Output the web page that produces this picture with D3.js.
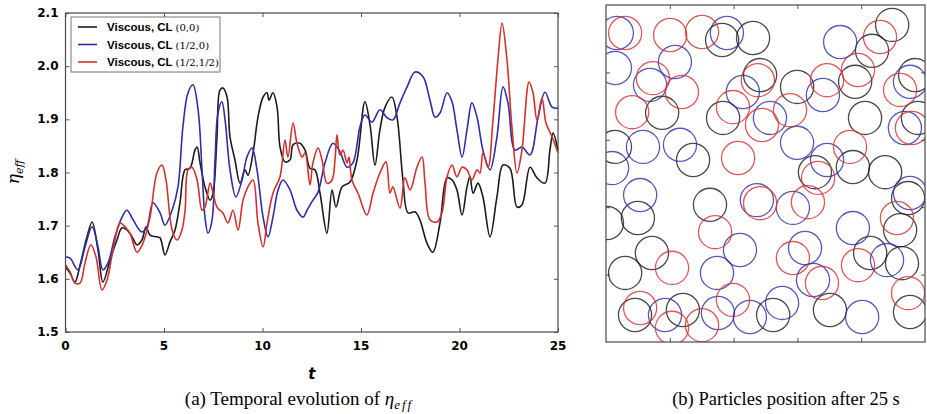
<!DOCTYPE html>
<html>
<head>
<meta charset="utf-8">
<script src="https://d3js.org/d3.v7.min.js"></script>
<style>
  body { margin: 0; background: #fff; }
  svg { display: block; }
</style>
</head>
<body>
<svg id="chart" width="927" height="414"></svg>
<script>
// eta_eff vs t as [t, eta]
let viscous00 = [
  [0,1.622],[0.23,1.611],[0.48,1.594],[0.74,1.626],[1.09,1.679],[1.35,1.707],[1.65,1.654],[1.90,1.594],
  [2.26,1.635],[2.61,1.673],[2.87,1.696],[3.12,1.692],[3.38,1.679],[3.63,1.664],[3.88,1.673],[4.09,1.698],
  [4.29,1.682],[4.64,1.679],[4.80,1.677],[5.05,1.645],[5.30,1.669],[5.56,1.692],[5.81,1.743],[6.07,1.805],
  [6.32,1.808],[6.57,1.842],[6.68,1.848],[6.83,1.818],[7.08,1.773],[7.34,1.748],[7.49,1.761],[7.69,1.867],
  [7.84,1.955],[7.99,1.959],[8.20,1.942],[8.35,1.867],[8.60,1.824],[8.86,1.780],[9.11,1.805],[9.26,1.795],
  [9.52,1.837],[9.77,1.904],[10.03,1.942],[10.23,1.950],[10.33,1.936],[10.53,1.950],[10.74,1.923],[10.89,1.848],
  [11.14,1.820],[11.40,1.824],[11.55,1.852],[11.90,1.855],[12.16,1.842],[12.41,1.808],[12.66,1.805],[12.92,1.761],
  [13.27,1.686],[13.53,1.767],[13.73,1.735],[14.04,1.773],[14.44,1.782],[14.80,1.824],[15.20,1.933],[15.46,1.889],
  [15.71,1.814],[15.96,1.880],[16.22,1.923],[16.57,1.942],[16.83,1.904],[17.13,1.786],[17.39,1.724],[17.74,1.726],
  [17.99,1.711],[18.35,1.667],[18.65,1.650],[19.01,1.705],[19.37,1.790],[19.62,1.786],[19.87,1.767],[20.13,1.720],
  [20.38,1.773],[20.53,1.792],[20.69,1.761],[20.94,1.780],[21.19,1.754],[21.55,1.679],[21.90,1.754],[22.21,1.814],
  [22.56,1.808],[22.92,1.735],[23.17,1.739],[23.58,1.810],[23.93,1.790],[24.34,1.780],[24.59,1.842],[24.75,1.874],
  [25,1.842]
];
let viscousHalf0 = [
  [0,1.641],[0.23,1.639],[0.63,1.617],[0.99,1.660],[1.35,1.698],[1.65,1.660],[1.90,1.617],[2.16,1.630],
  [2.51,1.679],[2.87,1.716],[3.12,1.729],[3.43,1.711],[3.88,1.688],[4.14,1.698],[4.44,1.743],[4.80,1.724],
  [5.05,1.701],[5.41,1.729],[5.71,1.773],[5.96,1.886],[6.22,1.950],[6.47,1.965],[6.73,1.918],[6.93,1.805],
  [7.08,1.716],[7.23,1.686],[7.44,1.711],[7.59,1.824],[7.74,1.912],[7.94,1.933],[8.10,1.899],[8.35,1.805],
  [8.65,1.754],[8.96,1.786],[9.21,1.829],[9.47,1.846],[9.72,1.805],[10.03,1.716],[10.28,1.679],[10.53,1.716],
  [10.79,1.767],[11.04,1.786],[11.40,1.767],[11.75,1.729],[12.06,1.716],[12.26,1.729],[12.56,1.748],[12.82,1.763],
  [13.17,1.818],[13.58,1.855],[13.93,1.839],[14.29,1.810],[14.59,1.818],[14.95,1.886],[15.20,1.908],[15.56,1.895],
  [15.96,1.918],[16.32,1.903],[16.62,1.899],[16.98,1.931],[17.34,1.961],[17.74,1.989],[18.15,1.980],[18.50,1.936],
  [18.76,1.904],[19.01,1.912],[19.37,1.950],[19.62,1.933],[19.87,1.880],[20.13,1.829],[20.38,1.880],[20.63,1.931],
  [20.89,1.904],[21.19,1.842],[21.55,1.805],[21.90,1.867],[22.21,1.961],[22.46,1.931],[22.82,1.842],[23.17,1.848],
  [23.58,1.833],[23.99,1.904],[24.34,1.951],[24.70,1.923],[25,1.921]
];
let viscousHalfHalf = [
  [0,1.626],[0.23,1.613],[0.48,1.592],[0.74,1.592],[0.99,1.630],[1.29,1.664],[1.55,1.641],[1.85,1.579],
  [2.11,1.598],[2.41,1.654],[2.77,1.705],[3.02,1.698],[3.27,1.686],[3.63,1.650],[3.93,1.667],[4.29,1.716],
  [4.64,1.799],[4.90,1.814],[5.10,1.786],[5.41,1.692],[5.66,1.673],[5.91,1.692],[6.07,1.729],[6.22,1.805],
  [6.42,1.810],[6.68,1.786],[6.93,1.729],[7.08,1.735],[7.34,1.780],[7.49,1.761],[7.69,1.735],[7.99,1.724],
  [8.25,1.705],[8.50,1.729],[8.76,1.692],[9.01,1.748],[9.26,1.773],[9.52,1.786],[9.77,1.705],[10.03,1.660],
  [10.23,1.705],[10.53,1.761],[10.89,1.792],[11.14,1.861],[11.29,1.829],[11.55,1.893],[11.75,1.855],[12.01,1.829],
  [12.16,1.837],[12.41,1.777],[12.56,1.818],[12.82,1.846],[13.02,1.824],[13.27,1.780],[13.53,1.786],[13.68,1.824],
  [13.78,1.871],[13.93,1.833],[14.09,1.842],[14.29,1.818],[14.39,1.829],[14.54,1.786],[14.85,1.761],[15.30,1.720],
  [15.61,1.761],[15.96,1.799],[16.27,1.820],[16.47,1.761],[16.62,1.773],[16.98,1.733],[17.23,1.790],[17.49,1.767],
  [17.84,1.810],[18.10,1.829],[18.25,1.780],[18.50,1.711],[18.86,1.707],[19.11,1.724],[19.37,1.792],[19.62,1.814],
  [19.87,1.792],[20.13,1.810],[20.38,1.805],[20.63,1.786],[20.89,1.805],[21.04,1.799],[21.19,1.837],[21.45,1.810],
  [21.70,1.899],[21.95,2.012],[22.16,2.081],[22.41,2.012],[22.66,1.886],[22.92,1.799],[23.17,1.842],[23.53,1.970],
  [23.73,1.950],[23.93,1.899],[24.19,1.940],[24.39,1.893],[24.70,1.867],[25,1.837]
];
let seriesNames = ["(0,0)", "(1/2,0)", "(1/2,1/2)"];
let seriesColours = ["#1c1c1c", "#2e2eaa", "#d3302e"];
let tTicks = [0, 5, 10, 15, 20, 25];
let etaTicks = [1.5, 1.6, 1.7, 1.8, 1.9, 2.0, 2.1];

// particle centres after 25 s, box coordinates 0..1
let particles00 = [
  [0.364,0.896],[0.461,0.902],[0.897,0.941],[0.834,0.864],[0.483,0.792],[0.367,0.665],[0.176,0.680],[0.599,0.757],
  [0.781,0.772],[0.812,0.665],[0.969,0.792],[0.978,0.665],[0.028,0.579],[0.273,0.540],[0.774,0.519],[0.655,0.504],
  [0.875,0.504],[0.947,0.427],[0.922,0.332],[0.100,0.368],[0.003,0.353],[0.326,0.407],[0.144,0.264],[0.060,0.205],
  [0.828,0.264],[0.928,0.234],[0.091,0.080],[0.241,0.095],[0.524,0.080],[0.702,0.095],[0.953,0.089]
];
let particlesHalf0 = [
  [0.034,0.917],[0.379,0.917],[0.734,0.890],[0.028,0.813],[0.216,0.831],[0.138,0.763],[0.429,0.742],[0.514,0.665],
  [0.680,0.733],[0.953,0.772],[0.937,0.635],[0.116,0.579],[0.232,0.585],[0.599,0.591],[0.693,0.540],[0.019,0.516],
  [0.953,0.442],[0.107,0.436],[0.473,0.421],[0.586,0.398],[0.774,0.338],[0.420,0.273],[0.624,0.279],[0.881,0.243],
  [0.348,0.205],[0.649,0.184],[0.185,0.080],[0.351,0.086],[0.451,0.074],[0.552,0.116],[0.803,0.074]
];
let particlesHalfHalf = [
  [0.060,0.917],[0.201,0.911],[0.301,0.920],[0.859,0.905],[0.147,0.783],[0.238,0.742],[0.476,0.777],[0.398,0.697],
  [0.082,0.682],[0.577,0.688],[0.489,0.644],[0.693,0.777],[0.790,0.807],[0.922,0.748],[0.959,0.635],[0.414,0.546],
  [0.765,0.579],[0.665,0.487],[0.912,0.368],[0.483,0.412],[0.633,0.415],[0.342,0.326],[0.207,0.220],[0.586,0.249],
  [0.790,0.228],[0.677,0.175],[0.947,0.145],[0.107,0.101],[0.207,0.042],[0.398,0.125],[0.301,0.050]
];
let particleRadius = 0.052;
let boxTicks = [0.2, 0.4, 0.6, 0.8];

let svg = d3.select("#chart");

function evolutionChart() {
    let left = 65.5, top = 13, right = 558, bottom = 332;

    let x = d3.scaleLinear().domain([0, 25]).range([left, right]);
    let y = d3.scaleLinear().domain([1.5, 2.1]).range([bottom, top]);

    let g = svg.append("g");

    // inward ticks on all four sides
    let tickStyle = function(sel) {
        sel.select(".domain").remove();
        sel.selectAll("line").attr("stroke", "#555");
    };
    g.append("g").attr("transform", `translate(0,${bottom})`)
     .call(d3.axisTop(x).tickValues(tTicks).tickSize(4).tickFormat(""))
     .call(tickStyle);
    g.append("g").attr("transform", `translate(0,${top})`)
     .call(d3.axisBottom(x).tickValues(tTicks).tickSize(4).tickFormat(""))
     .call(tickStyle);
    g.append("g").attr("transform", `translate(${left},0)`)
     .call(d3.axisRight(y).tickValues(etaTicks).tickSize(4).tickFormat(""))
     .call(tickStyle);
    g.append("g").attr("transform", `translate(${right},0)`)
     .call(d3.axisLeft(y).tickValues(etaTicks).tickSize(4).tickFormat(""))
     .call(tickStyle);

    g.selectAll(".tlabel")
     .data(tTicks)
     .enter().append("text")
     .attr("x", d => x(d))
     .attr("y", bottom + 18)
     .attr("text-anchor", "middle")
     .style("font-family", "DejaVu Sans")
     .style("font-weight", "bold")
     .style("font-size", "12px")
     .text(d => d);

    g.selectAll(".elabel")
     .data(etaTicks)
     .enter().append("text")
     .attr("x", left - 7)
     .attr("y", d => y(d) + 4)
     .attr("text-anchor", "end")
     .style("font-family", "DejaVu Sans")
     .style("font-weight", "bold")
     .style("font-size", "12px")
     .text(d => d.toFixed(1));

    let line = d3.line()
                 .x(d => x(d[0]))
                 .y(d => y(d[1]))
                 .curve(d3.curveCatmullRom.alpha(0.5));

    let allSeries = [viscous00, viscousHalf0, viscousHalfHalf];
    g.selectAll(".series")
     .data(allSeries)
     .enter().append("path")
     .attr("d", line)
     .attr("fill", "none")
     .attr("stroke", (d, i) => seriesColours[i])
     .attr("stroke-width", 1.6)
     .attr("stroke-linejoin", "round");

    g.append("rect")
     .attr("x", left).attr("y", top)
     .attr("width", right - left).attr("height", bottom - top)
     .attr("fill", "none")
     .attr("stroke", "#4a4a4a")
     .attr("stroke-width", 1.2);

    // legend
    let lg = g.append("g");
    lg.append("rect")
      .attr("x", 71).attr("y", 17)
      .attr("width", 149).attr("height", 55)
      .attr("fill", "#fff")
      .attr("stroke", "#777")
      .attr("stroke-width", 1);
    seriesNames.forEach(function(name, i) {
        let ly = 27 + i * 17.5;
        lg.append("line")
          .attr("x1", 78).attr("x2", 97)
          .attr("y1", ly).attr("y2", ly)
          .attr("stroke", seriesColours[i])
          .attr("stroke-width", 1.6);
        let txt = lg.append("text")
                    .attr("x", 107)
                    .attr("y", ly + 4);
        txt.append("tspan")
           .style("font-family", "Liberation Sans")
           .style("font-weight", "bold")
           .style("font-size", "11.5px")
           .text("Viscous, CL ");
        txt.append("tspan")
           .style("font-family", "DejaVu Serif")
           .style("font-size", "10px")
           .text(name);
    });

    g.append("text")
     .attr("x", (left + right) / 2)
     .attr("y", 379)
     .attr("text-anchor", "middle")
     .style("font-family", "DejaVu Sans")
     .style("font-style", "italic")
     .style("font-weight", "bold")
     .style("font-size", "15px")
     .text("t");

    let yl = g.append("text")
              .attr("transform", "translate(19,172) rotate(-90)")
              .attr("text-anchor", "middle")
              .style("font-family", "DejaVu Serif")
              .style("font-style", "italic");
    yl.append("tspan").style("font-size", "17px").text("η");
    yl.append("tspan").style("font-size", "11px").attr("dy", 4).text("eff");

    let cap = g.append("text")
               .attr("x", 299)
               .attr("y", 405)
               .attr("text-anchor", "middle")
               .style("font-family", "Liberation Serif")
               .style("font-size", "19px");
    cap.append("tspan").text("(a) Temporal evolution of ");
    cap.append("tspan").style("font-style", "italic").text("η");
    cap.append("tspan").style("font-style", "italic").style("font-size", "13px")
       .style("letter-spacing", "2px").attr("dy", 4).text("eff");
}

function particleChart() {
    let left = 606, top = 5, right = 925, bottom = 342;

    let x = d3.scaleLinear().domain([0, 1]).range([left, right]);
    let y = d3.scaleLinear().domain([0, 1]).range([bottom, top]);

    let g = svg.append("g");

    g.append("clipPath").attr("id", "boxClip")
     .append("rect")
     .attr("x", left).attr("y", top)
     .attr("width", right - left).attr("height", bottom - top);

    let tickStyle = function(sel) {
        sel.select(".domain").remove();
        sel.selectAll("line").attr("stroke", "#555");
    };
    g.append("g").attr("transform", `translate(0,${bottom})`)
     .call(d3.axisTop(x).tickValues(boxTicks).tickSize(4).tickFormat(""))
     .call(tickStyle);
    g.append("g").attr("transform", `translate(0,${top})`)
     .call(d3.axisBottom(x).tickValues(boxTicks).tickSize(4).tickFormat(""))
     .call(tickStyle);
    g.append("g").attr("transform", `translate(${left},0)`)
     .call(d3.axisRight(y).tickValues(boxTicks).tickSize(4).tickFormat(""))
     .call(tickStyle);
    g.append("g").attr("transform", `translate(${right},0)`)
     .call(d3.axisLeft(y).tickValues(boxTicks).tickSize(4).tickFormat(""))
     .call(tickStyle);

    let r = x(particleRadius) - x(0);
    let sets = [particles00, particlesHalf0, particlesHalfHalf];
    let cg = g.append("g").attr("clip-path", "url(#boxClip)");
    sets.forEach(function(set, i) {
        cg.selectAll(".p" + i)
          .data(set)
          .enter().append("circle")
          .attr("cx", d => x(d[0]))
          .attr("cy", d => y(d[1]))
          .attr("r", r)
          .attr("fill", "none")
          .attr("stroke", seriesColours[i])
          .attr("stroke-opacity", 0.8)
          .attr("stroke-width", 1.3);
    });

    g.append("rect")
     .attr("x", left).attr("y", top)
     .attr("width", right - left).attr("height", bottom - top)
     .attr("fill", "none")
     .attr("stroke", "#4a4a4a")
     .attr("stroke-width", 1.2);

    g.append("text")
     .attr("x", 786)
     .attr("y", 405)
     .attr("text-anchor", "middle")
     .style("font-family", "Liberation Serif")
     .style("font-size", "18.5px")
     .text("(b) Particles position after 25 s");
}

evolutionChart();
particleChart();
</script>
</body>
</html>
